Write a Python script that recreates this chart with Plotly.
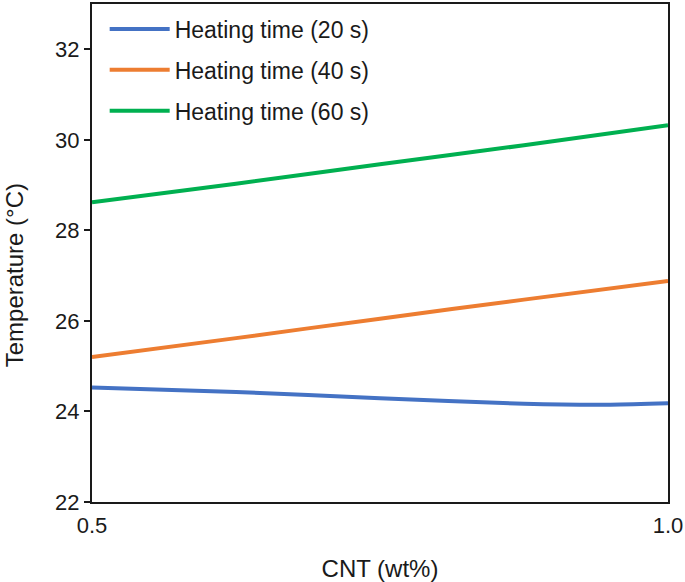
import plotly.graph_objects as go

cnt = [0.5, 0.625, 0.75, 0.875, 0.95, 1.0]
temp_20s = [24.53, 24.43, 24.29, 24.17, 24.15, 24.18]
cnt_lin = [0.5, 0.625, 0.75, 0.875, 1.0]
temp_40s = [25.20, 25.62, 26.05, 26.47, 26.88]
temp_60s = [28.62, 29.03, 29.46, 29.88, 30.32]
names = ["Heating time (20 s)", "Heating time (40 s)", "Heating time (60 s)"]
colors = ["#4472C4", "#ED7D31", "#00B050"]

y_ticks = [22, 24, 26, 28, 30, 32]
x_ticks = [0.5, 1.0]
x_ticklabels = ["0.5", "1.0"]

fig = go.Figure()
series = [(cnt, temp_20s), (cnt_lin, temp_40s), (cnt_lin, temp_60s)]
for i, ((xs, ys), n, c) in enumerate(zip(series, names, colors)):
    fig.add_trace(go.Scatter(x=xs, y=ys, mode="lines", name=n, legendgroup=f"g{i}",
                             line=dict(color=c, width=4, shape="spline", smoothing=0.8)))

font = "Arial, Liberation Sans, sans-serif"
fig.update_layout(
    width=685, height=582,
    margin=dict(l=92, r=14, t=2, b=80),
    plot_bgcolor="white", paper_bgcolor="white",
    font=dict(family=font, size=22, color="#1a1a1a"),
    showlegend=True,
    legend=dict(x=0.022, y=0.993, xanchor="left", yanchor="top",
                bgcolor="rgba(0,0,0,0)", itemwidth=60,
                font=dict(size=23), tracegroupgap=8),
    xaxis=dict(range=[0.5, 1.0], tickvals=x_ticks, ticktext=x_ticklabels,
               showline=True, linecolor="#1a1a1a", linewidth=2, mirror=True,
               showgrid=False, zeroline=False, ticks="outside", ticklen=3,
               tickcolor="rgba(0,0,0,0)", ticklabeloverflow="allow",
               title=dict(text="CNT (wt%)", font=dict(size=24), standoff=24),
               tickfont=dict(size=22)),
    yaxis=dict(range=[22, 33], tickvals=y_ticks,
               showline=True, linecolor="#1a1a1a", linewidth=2, mirror=True,
               showgrid=False, zeroline=False, ticks="outside", ticklen=6,
               tickwidth=2, tickcolor="#1a1a1a",
               tickfont=dict(size=22)),
    annotations=[dict(text="Temperature (°C)", textangle=-90, xref="paper", yref="paper",
                      x=-0.133, y=0.456, xanchor="center", yanchor="middle",
                      showarrow=False, font=dict(size=24))],
)
fig.write_html("out.html", post_script="document.body.style.margin='0';",
               config={"displayModeBar": False})
